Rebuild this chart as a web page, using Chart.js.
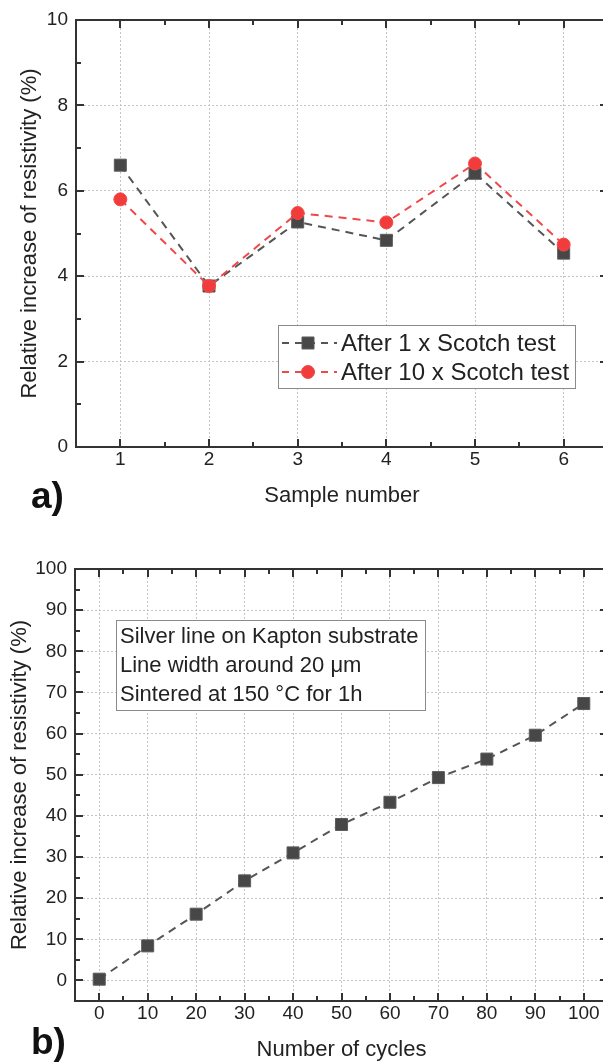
<!DOCTYPE html>
<html>
<head>
<meta charset="utf-8">
<script src="https://cdn.jsdelivr.net/npm/chart.js@4.4.1/dist/chart.umd.min.js"></script>
<style>
  html, body { margin: 0; padding: 0; background: #fff; overflow: hidden; width: 603px; height: 1062px; }
  canvas { position: absolute; left: 0; }
  #chartA { top: 0; }
  #chartB { top: 540px; }
</style>
</head>
<body>
<canvas id="chartA" width="620" height="530"></canvas>
<canvas id="chartB" width="620" height="540"></canvas>
<script>
// Panel a) - resistivity after scotch tests
const samples = [1, 2, 3, 4, 5, 6];
const after1 = [6.60, 3.77, 5.27, 4.84, 6.41, 4.54];
const after10 = [5.80, 3.77, 5.48, 5.26, 6.64, 4.74];
const yTicksA = [0, 2, 4, 6, 8, 10];

// Panel b) - resistivity vs bending cycles
const cycles = [0, 10, 20, 30, 40, 50, 60, 70, 80, 90, 100];
const increase = [0.3, 8.4, 16.1, 24.2, 31.0, 37.9, 43.3, 49.3, 53.8, 59.6, 67.3];
const yTicksB = [0, 10, 20, 30, 40, 50, 60, 70, 80, 90, 100];
const noteLines = ['Silver line on Kapton substrate', 'Line width around 20 \u03bcm', 'Sintered at 150 \u00b0C for 1h'];

const FONT = '"Liberation Sans", Arial, sans-serif';
const TEXT = '#222';

function pts(xs, ys) {
    return xs.map((x, i) => ({ x: x, y: ys[i] }));
}

// box + inward ticks on all four sides, like Origin
const framePlugin = {
    id: 'frame',
    afterDatasetsDraw(chart, args, opts) {
        const { ctx, chartArea: a } = chart;
        const xs = chart.scales.x, ys = chart.scales.y;
        ctx.save();
        ctx.strokeStyle = '#333';
        ctx.lineWidth = 2;
        ctx.setLineDash([]);
        ctx.strokeRect(a.left, a.top, a.right - a.left, a.bottom - a.top);
        const tick = (vals, len, horiz) => {
            vals.forEach(v => {
                ctx.beginPath();
                if (horiz) {
                    const p = Math.round(xs.getPixelForValue(v));
                    ctx.moveTo(p, a.bottom); ctx.lineTo(p, a.bottom - len);
                    ctx.moveTo(p, a.top); ctx.lineTo(p, a.top + len);
                } else {
                    const p = Math.round(ys.getPixelForValue(v));
                    ctx.moveTo(a.left, p); ctx.lineTo(a.left + len, p);
                    ctx.moveTo(a.right, p); ctx.lineTo(a.right - len, p);
                }
                ctx.stroke();
            });
        };
        tick(opts.xMajor, 8, true);
        tick(opts.xMinor, 5, true);
        tick(opts.yMajor, 8, false);
        tick(opts.yMinor, 5, false);
        ctx.restore();
    },
    afterDraw(chart, args, opts) {
        const ctx = chart.ctx;
        ctx.save();
        ctx.fillStyle = '#111';
        ctx.font = 'bold 37px ' + FONT;
        ctx.textBaseline = 'alphabetic';
        ctx.fillText(opts.panel, 31, opts.panelY);
        ctx.restore();
    }
};

const legendPlugin = {
    id: 'boxLegend',
    afterDraw(chart, args, opts) {
        if (!opts.show) return;
        const ctx = chart.ctx;
        ctx.save();
        ctx.fillStyle = '#fff';
        ctx.fillRect(278, 325, 297, 63);
        ctx.strokeStyle = '#8a8a8a';
        ctx.lineWidth = 1;
        ctx.strokeRect(278.5, 325.5, 297, 63);
        chart.data.datasets.forEach((ds, i) => {
            const y = 343 + i * 29;
            ctx.strokeStyle = ds.borderColor;
            ctx.lineWidth = ds.borderWidth;
            ctx.setLineDash([7, 6]);
            ctx.beginPath();
            ctx.moveTo(282, y); ctx.lineTo(337, y);
            ctx.stroke();
            ctx.setLineDash([]);
            ctx.fillStyle = ds.pointBackgroundColor;
            ctx.strokeStyle = ds.pointBorderColor;
            ctx.lineWidth = 1;
            Chart.helpers.drawPoint(ctx, { pointStyle: ds.pointStyle, radius: ds.pointRadius, borderWidth: 1, rotation: 0 }, 308, y);
            ctx.fillStyle = TEXT;
            ctx.font = '24px ' + FONT;
            ctx.textBaseline = 'middle';
            ctx.fillText(ds.label, 341, y + 1);
        });
        ctx.restore();
    }
};

const notePlugin = {
    id: 'note',
    afterDraw(chart, args, opts) {
        if (!opts.lines) return;
        const ctx = chart.ctx;
        ctx.save();
        ctx.fillStyle = '#fff';
        ctx.fillRect(116, 80, 309, 90);
        ctx.strokeStyle = '#8a8a8a';
        ctx.lineWidth = 1;
        ctx.strokeRect(116.5, 80.5, 309, 90);
        ctx.fillStyle = TEXT;
        ctx.font = '22px ' + FONT;
        ctx.textBaseline = 'middle';
        opts.lines.forEach((t, i) => ctx.fillText(t, 120, 97 + i * 29));
        ctx.restore();
    }
};

function axes(o) {
    const grid = { color: '#c4c4c4', lineWidth: 1, drawTicks: false };
    const border = { display: false, dash: [2, 2] };
    return {
        x: {
            type: 'linear', min: o.xMin, max: o.xMax,
            afterBuildTicks: s => { s.ticks = o.xTicks.map(v => ({ value: v })); },
            afterFit: s => { s.height = o.xHeight; },
            grid: grid, border: border,
            ticks: { color: TEXT, font: { family: FONT, size: 19 }, padding: 1, maxRotation: 0, autoSkip: false },
            title: { display: true, text: o.xTitle, color: TEXT, font: { family: FONT, size: 22 }, padding: { top: 0, bottom: o.xTitlePad } }
        },
        y: {
            type: 'linear', min: o.yMin, max: o.yMax,
            afterBuildTicks: s => { s.ticks = o.yTicks.map(v => ({ value: v })); },
            afterFit: s => { s.width = o.yWidth; },
            grid: grid, border: border,
            ticks: { color: TEXT, font: { family: FONT, size: 19 }, padding: 8, autoSkip: false },
            title: { display: true, text: 'Relative increase of resistivity (%)', color: TEXT, font: { family: FONT, size: 22 }, padding: { top: o.yTitlePad, bottom: 0 } }
        }
    };
}

const gray = { line: '#555555', fill: '#474747', edge: '#5c5c5c' };
const red = { line: '#f04848', fill: '#f23c3c', edge: '#f04a4a' };

new Chart(document.getElementById('chartA'), {
    type: 'line',
    data: {
        datasets: [{
            label: 'After 1 x Scotch test',
            data: pts(samples, after1),
            borderColor: gray.line, borderWidth: 2, borderDash: [8, 6],
            pointStyle: 'rect', pointRadius: 8.5,
            pointBackgroundColor: gray.fill, pointBorderColor: gray.edge, pointBorderWidth: 1,
            order: 2
        }, {
            label: 'After 10 x Scotch test',
            data: pts(samples, after10),
            borderColor: red.line, borderWidth: 2, borderDash: [8, 6],
            pointStyle: 'circle', pointRadius: 6.5,
            pointBackgroundColor: red.fill, pointBorderColor: red.edge, pointBorderWidth: 1,
            order: 1
        }]
    },
    options: {
        responsive: false,
        animation: false,
        layout: { padding: { left: 0, right: 12, top: 20, bottom: 0 } },
        scales: axes({
            xMin: 0.5, xMax: 6.5, xTicks: samples, xHeight: 83, xTitle: 'Sample number', xTitlePad: 21,
            yMin: 0, yMax: 10, yTicks: yTicksA, yWidth: 76, yTitlePad: 17
        }),
        plugins: {
            legend: { display: false },
            tooltip: { enabled: false },
            frame: {
                xMajor: samples, xMinor: [1.5, 2.5, 3.5, 4.5, 5.5],
                yMajor: yTicksA, yMinor: [1, 3, 5, 7, 9],
                panel: 'a)', panelY: 508
            },
            boxLegend: { show: true },
            note: {}
        }
    },
    plugins: [framePlugin, legendPlugin, notePlugin]
});

new Chart(document.getElementById('chartB'), {
    type: 'line',
    data: {
        datasets: [{
            label: 'Relative increase',
            data: pts(cycles, increase),
            borderColor: gray.line, borderWidth: 2, borderDash: [8, 6],
            pointStyle: 'rect', pointRadius: 8.5,
            pointBackgroundColor: gray.fill, pointBorderColor: gray.edge, pointBorderWidth: 1
        }]
    },
    options: {
        responsive: false,
        animation: false,
        layout: { padding: { left: 0, right: 12, top: 29, bottom: 0 } },
        scales: axes({
            xMin: -5, xMax: 105, xTicks: cycles, xHeight: 79, xTitle: 'Number of cycles', xTitlePad: 17,
            yMin: -5, yMax: 100, yTicks: yTicksB, yWidth: 75, yTitlePad: 7
        }),
        plugins: {
            legend: { display: false },
            tooltip: { enabled: false },
            frame: {
                xMajor: cycles, xMinor: [5, 15, 25, 35, 45, 55, 65, 75, 85, 95],
                yMajor: yTicksB, yMinor: [-5, 5, 15, 25, 35, 45, 55, 65, 75, 85, 95],
                panel: 'b)', panelY: 514
            },
            boxLegend: { show: false },
            note: { lines: noteLines }
        }
    },
    plugins: [framePlugin, legendPlugin, notePlugin]
});
</script>
</body>
</html>
